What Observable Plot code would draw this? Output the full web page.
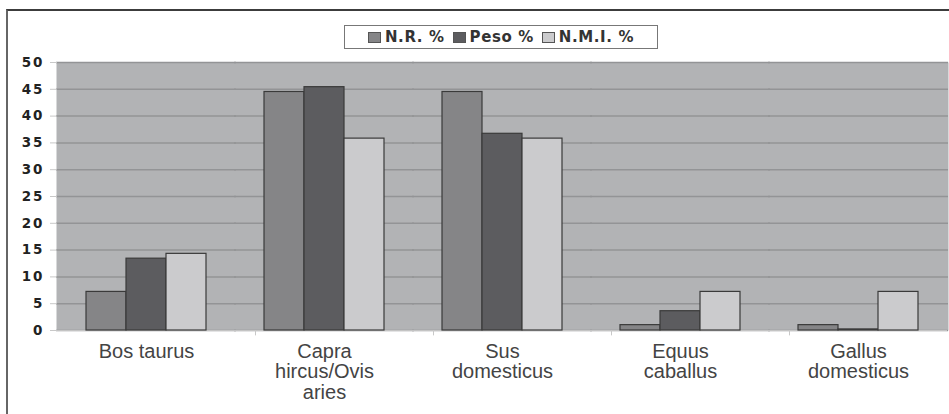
<!DOCTYPE html>
<html>
<head>
<meta charset="utf-8">
<script src="https://cdn.jsdelivr.net/npm/d3@7"></script>
<script src="https://cdn.jsdelivr.net/npm/@observablehq/plot@0.6"></script>
<style>
  html, body { margin: 0; padding: 0; background: #fff; overflow: hidden; }
  #wrap { position: relative; width: 949px; height: 414px; }
  #border { position: absolute; left: 6px; top: 9px; width: 960px; height: 420px; border: 2px solid #3c3c3c; box-sizing: border-box; border-right: none; border-bottom: none; border-left-color: #666; }
  #chart { position: absolute; left: 0; top: 0; }
  #legend { position: absolute; left: 344px; top: 25px; width: 314px; height: 24px; border: 1px solid #777; box-sizing: border-box; background: #fff;
    display: flex; align-items: center; justify-content: center; gap: 0; font-family: "DejaVu Sans", sans-serif; font-weight: bold; font-size: 15px; letter-spacing: 0.6px; color: #333; }
  .item { display: flex; align-items: center; margin: 0 4px; }
  .sw { width: 11px; height: 9px; border: 1px solid #555; margin-right: 4px; }
</style>
</head>
<body>
<div id="wrap">
  <div id="border"></div>
  <div id="chart"></div>
  <div id="legend"></div>
</div>
<script>
const categories = ["Bos taurus", "Capra hircus/Ovis aries", "Sus domesticus", "Equus caballus", "Gallus domesticus"];
const categoryLabels = ["Bos taurus", "Capra\nhircus/Ovis\naries", "Sus\ndomesticus", "Equus\ncaballus", "Gallus\ndomesticus"];
const series = ["N.R. %", "Peso %", "N.M.I. %"];
const nrValues = [7.2, 44.5, 44.5, 1.0, 1.0];
const pesoValues = [13.4, 45.4, 36.7, 3.6, 0.2];
const nmiValues = [14.3, 35.8, 35.8, 7.2, 7.2];
const seriesColors = ["#858587", "#5c5c5f", "#cbcbcd"];
const yTicks = [0, 5, 10, 15, 20, 25, 30, 35, 40, 45, 50];

const valuesBySeries = [nrValues, pesoValues, nmiValues];
const data = [];
categories.forEach((c, i) => {
  series.forEach((s, j) => data.push({cat: c, series: s, value: valuesBySeries[j][i]}));
});
const labelOf = new Map(categories.map((c, i) => [c, categoryLabels[i]]));
const outerPad = 0.72;

const chart = Plot.plot({
  width: 949,
  height: 414,
  marginLeft: 57,
  marginRight: 2,
  marginTop: 62,
  marginBottom: 84,
  style: {background: "transparent", overflow: "visible"},
  fx: {domain: categories, padding: 0, axis: null},
  x: {domain: series, paddingInner: 0, paddingOuter: outerPad, axis: null},
  y: {domain: [0, 50], axis: null},
  color: {domain: series, range: seriesColors},
  marks: [
    Plot.frame({fill: "#b2b3b5", stroke: null, insetLeft: -1, insetRight: -1}),
    Plot.gridY(yTicks, {stroke: "#939496", strokeOpacity: 1, strokeWidth: 1.5, insetLeft: -1, insetRight: -1}),
    Plot.ruleY([0], {stroke: "#c4c4c4", strokeWidth: 1}),
    Plot.ruleX(categories.slice(1), {fx: d => d, x: () => series[0], y1: 0, y2: -1, dx: -29, stroke: "#c8c8c8"}),
    Plot.barY(data, {fx: "cat", x: "series", y: "value", fill: "series", stroke: "#3a3a3a", strokeWidth: 1.2}),
    Plot.axisY(yTicks, {
      tickSize: 7, tickPadding: 6, stroke: "#c8c8c8",
      fontFamily: "DejaVu Sans", fontWeight: "bold", fontSize: 13.5, fill: "#222",
      tickFormat: d => String(d), label: null
    }),
    Plot.text(categories, {
      fx: d => d, text: d => labelOf.get(d), frameAnchor: "bottom", lineAnchor: "top",
      dy: 13, fontFamily: "Liberation Sans", fontSize: 20, lineHeight: 1.02, fill: "#444"
    })
  ]
});
chart.querySelectorAll("g[aria-label='y-axis tick label'] text").forEach(t => t.setAttribute("letter-spacing", "2"));
document.getElementById("chart").appendChild(chart);

const legend = document.getElementById("legend");
series.forEach((s, i) => {
  const item = document.createElement("div");
  item.className = "item";
  const sw = document.createElement("div");
  sw.className = "sw";
  sw.style.background = seriesColors[i];
  const t = document.createElement("span");
  t.textContent = s;
  item.appendChild(sw);
  item.appendChild(t);
  legend.appendChild(item);
});
</script>
</body>
</html>
